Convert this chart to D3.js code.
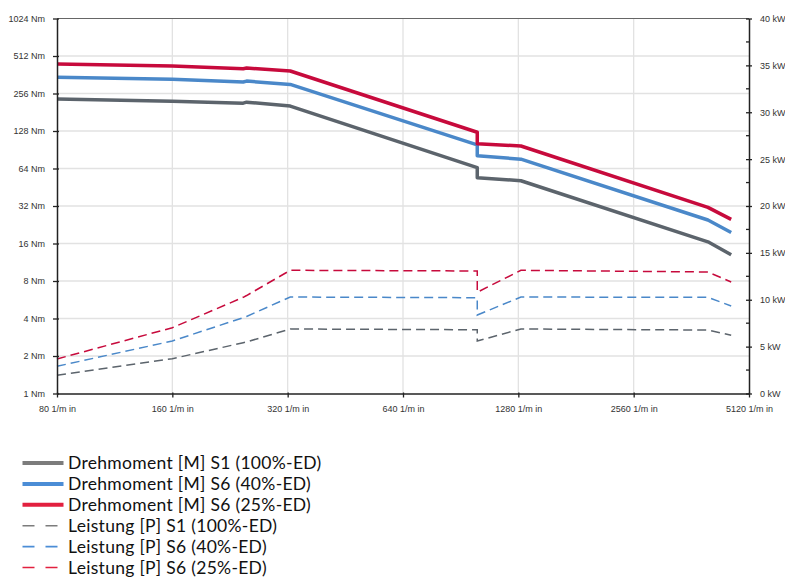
<!DOCTYPE html>
<html>
<head>
<meta charset="utf-8">
<script src="https://cdn.jsdelivr.net/npm/d3@7"></script>
<style>
  html, body { margin: 0; padding: 0; background: #ffffff; }
  svg { display: block; }
</style>
</head>
<body>
<svg id="chart" width="785" height="579"></svg>
<script>
// ---- data ----
const rpm = [80, 160, 245, 250, 325, 1000, 1000, 1300, 4000, 4600];
const torqueS1 = [231, 222, 214, 218, 203, 65, 54, 51, 16.5, 13];
const torqueS6_40 = [345, 333, 317, 322, 303, 99, 81, 76, 24.7, 19.6];
const torqueS6_25 = [442, 426, 405, 410, 388, 125, 101, 97, 31.2, 25];
const powerS1 = [1.94, 3.71, 5.42, 5.5, 6.88, 6.8, 5.6, 6.88, 6.77, 6.21];
const powerS6_40 = [2.9, 5.6, 8.09, 8.22, 10.29, 10.22, 8.37, 10.29, 10.26, 9.33];
const powerS6_25 = [3.68, 7.02, 10.26, 10.45, 13.14, 13.07, 10.8, 13.14, 12.96, 11.9];

const xTicks = [80, 160, 320, 640, 1280, 2560, 5120];
const yLeftTicks = [1, 2, 4, 8, 16, 32, 64, 128, 256, 512, 1024];
const yRightTicks = [0, 5, 10, 15, 20, 25, 30, 35, 40];
const yRightMinor = [2.5, 7.5, 12.5, 17.5, 22.5, 27.5, 32.5, 37.5];

const legendLabels = [
  "Drehmoment [M] S1 (100%-ED)",
  "Drehmoment [M] S6 (40%-ED)",
  "Drehmoment [M] S6 (25%-ED)",
  "Leistung [P] S1 (100%-ED)",
  "Leistung [P] S6 (40%-ED)",
  "Leistung [P] S6 (25%-ED)"
];

// ---- layout / style ----
const L = 57, R = 749, T = 18.5, B = 393.5;
const cGray = "#5c646c", cBlue = "#4a88c9", cRed = "#c70a3c";
const lgGray = "#7c7c7c", lgBlue = "#4b8dd6", lgRed = "#e2203f";
const tickFont = "'Liberation Sans', Arial, sans-serif";

const svg = d3.select("#chart");
const x = d3.scaleLog().base(2).domain([80, 5120]).range([L, R]);
const yL = d3.scaleLog().base(2).domain([1, 1024]).range([B, T]);
const yR = d3.scaleLinear().domain([0, 40]).range([B, T]);

// gridlines
const grid = svg.append("g");
grid.selectAll("line.h").data(yLeftTicks.slice(1, -1)).enter().append("line")
  .attr("x1", L).attr("x2", R).attr("y1", d => yL(d)).attr("y2", d => yL(d))
  .attr("stroke", "#e2e2e2").attr("stroke-width", 1.3);
grid.selectAll("line.v").data(xTicks.slice(1, -1)).enter().append("line")
  .attr("y1", T).attr("y2", B).attr("x1", d => x(d)).attr("x2", d => x(d))
  .attr("stroke", "#e2e2e2").attr("stroke-width", 1.3);
// top frame
svg.append("line").attr("x1", L).attr("x2", R).attr("y1", T).attr("y2", T)
  .attr("stroke", "#666").attr("stroke-width", 1);

// lines
const idx = d3.range(rpm.length);
const lineL = arr => d3.line().x(i => x(rpm[i])).y(i => yL(arr[i]))(idx);
const lineR = arr => d3.line().x(i => x(rpm[i])).y(i => yR(arr[i]))(idx);

const dashed = [[powerS1, cGray], [powerS6_40, cBlue], [powerS6_25, cRed]];
dashed.forEach(([arr, c]) => {
  svg.append("path").attr("d", lineR(arr)).attr("fill", "none")
    .attr("stroke", c).attr("stroke-width", 1.5).attr("stroke-dasharray", "9,5");
});
const solid = [[torqueS1, cGray], [torqueS6_40, cBlue], [torqueS6_25, cRed]];
solid.forEach(([arr, c]) => {
  svg.append("path").attr("d", lineL(arr)).attr("fill", "none")
    .attr("stroke", c).attr("stroke-width", 3.5).attr("stroke-linejoin", "round");
});

// axes
function styleAxis(g) {
  g.selectAll("text").attr("font-family", tickFont).attr("font-size", "9px").attr("fill", "#333");
  g.select(".domain").attr("stroke", "#222").attr("stroke-width", 1.5);
}
const axL = svg.append("g").attr("transform", `translate(${L},0)`)
  .call(d3.axisLeft(yL).tickValues(yLeftTicks).tickFormat(d => d + " Nm").tickSize(4).tickSizeOuter(0).tickPadding(8));
axL.selectAll(".tick line").attr("x2", -4).attr("x1", 2).attr("stroke", "#222").attr("stroke-width", 1.3);
styleAxis(axL);

const axB = svg.append("g").attr("transform", `translate(0,${B})`)
  .call(d3.axisBottom(x).tickValues(xTicks).tickFormat(d => d + " 1/m in").tickSize(4).tickSizeOuter(0).tickPadding(8));
axB.selectAll(".tick line").attr("y1", -1).attr("y2", 4).attr("stroke", "#222").attr("stroke-width", 1.3);
styleAxis(axB);

const axR = svg.append("g").attr("transform", `translate(${R},0)`)
  .call(d3.axisRight(yR).tickValues(yRightTicks).tickFormat(d => d + " kW").tickSize(3).tickSizeOuter(0).tickPadding(8));
axR.selectAll(".tick line").attr("x1", -3).attr("x2", 3).attr("stroke", "#222").attr("stroke-width", 1.3);
styleAxis(axR);
axR.selectAll("line.minor").data(yRightMinor).enter().append("line").attr("class", "minor")
  .attr("x1", -3).attr("x2", 0).attr("y1", d => yR(d)).attr("y2", d => yR(d))
  .attr("stroke", "#222").attr("stroke-width", 1.3);

// legend
const lgColors = [lgGray, lgBlue, lgRed, lgGray, lgBlue, lgRed];
const lgY = d3.scaleLinear().domain([0, 5]).range([463, 567.5]);
const lg = svg.append("g");
legendLabels.forEach((t, i) => {
  const cy = lgY(i);
  const isDash = i >= 3;
  lg.append("line").attr("x1", 22.5).attr("x2", isDash ? 60 : 63.5).attr("y1", cy).attr("y2", cy)
    .attr("stroke", lgColors[i]).attr("stroke-width", isDash ? 1.6 : 4)
    .attr("stroke-dasharray", isDash ? "12,11" : null);
  lg.append("text").attr("x", 68).attr("y", cy + 6).text(t)
    .attr("font-family", "Lato, 'Noto Sans', sans-serif").attr("font-size", "17.5px")
    .attr("letter-spacing", "0.3px").attr("fill", "#111");
});
</script>
</body>
</html>
